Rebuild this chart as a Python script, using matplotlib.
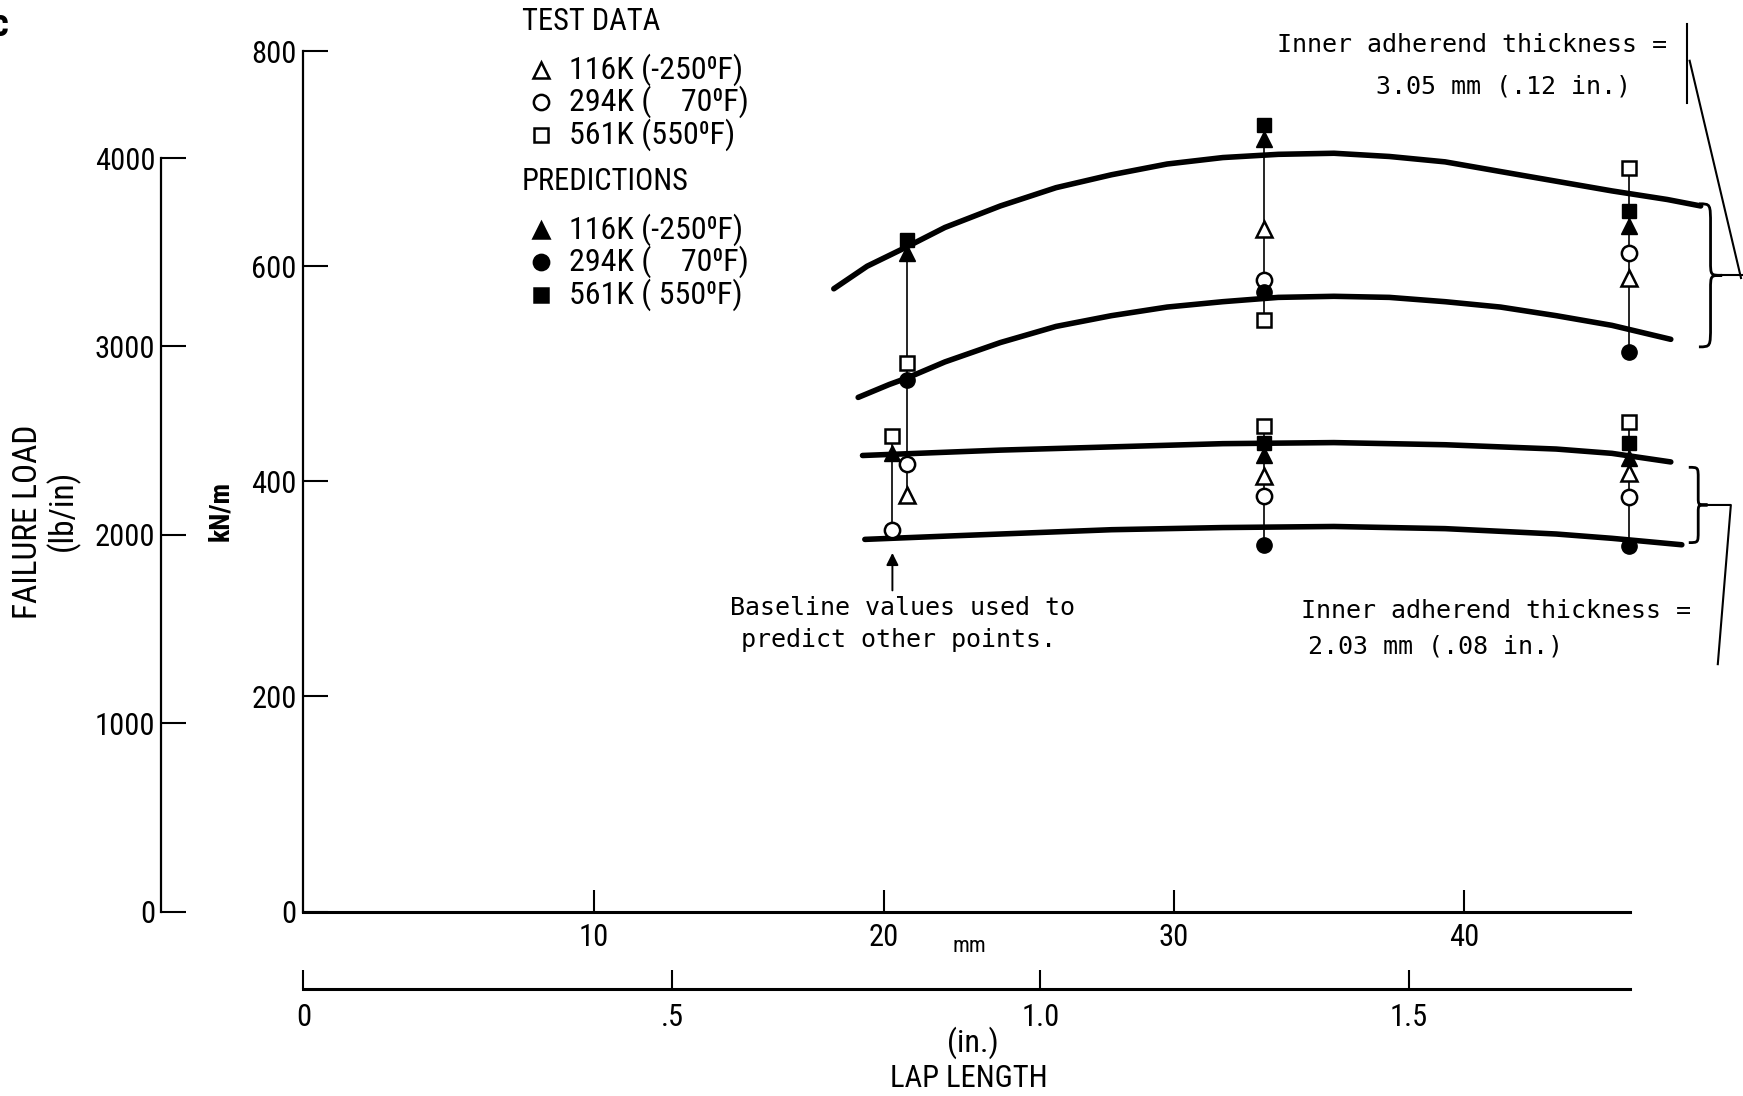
import matplotlib
matplotlib.use('Agg')
import matplotlib.pyplot as plt
import numpy as np
from matplotlib.path import Path
from matplotlib.patches import PathPatch

plt.rcParams['font.family'] = ['Roboto Condensed', 'Liberation Sans Narrow',
                               'Liberation Sans', 'DejaVu Sans']
plt.rcParams['font.stretch'] = 'condensed'
MONO = ['DejaVu Sans Mono']

# prediction curves, lap length (mm) vs failure load (kN/m)
c1_x = [18.28, 19.43, 20.80, 22.11, 24.02, 25.94, 27.85, 29.77, 31.69,
        33.60, 35.52, 37.43, 39.35, 41.26, 43.18, 45.10, 47.01, 48.16]
c1_y = [579, 600, 618, 636, 656, 673, 685, 695, 701,
        704, 705, 702, 697, 688, 679, 670, 662, 656]
c2_x = [19.12, 20.19, 20.80, 22.11, 24.02, 25.94, 27.85, 29.77, 31.69,
        33.60, 35.52, 37.43, 39.35, 41.26, 43.18, 45.10, 47.13]
c2_y = [478, 490, 496, 511, 529, 544, 554, 562, 567,
        571, 572, 571, 567, 562, 554, 545, 532]
c3_x = [19.27, 22.11, 24.02, 27.85, 31.69, 35.52, 39.35, 43.18, 45.10, 47.13]
c3_y = [424, 427, 429, 432, 435, 436, 434, 430, 426, 418]
c4_x = [19.35, 22.11, 24.02, 27.85, 31.69, 35.52, 39.35, 43.18, 45.10, 47.51]
c4_y = [346, 349, 351, 355, 357, 358, 356, 351, 347, 341]

# test data (open symbols)
t116_x = [20.8, 33.1, 45.7, 33.1, 45.7]
t116_y = [387, 635, 589, 405, 408]
t294_x = [20.8, 20.3, 33.1, 33.1, 45.7, 45.7]
t294_y = [416, 355, 587, 386, 612, 385]
t561_x = [20.8, 20.3, 33.1, 33.1, 45.7, 45.7]
t561_y = [510, 442, 550, 451, 691, 455]

# predictions (filled symbols)
p116_x = [20.8, 20.3, 33.1, 33.1, 45.7, 45.7]
p116_y = [612, 426, 718, 424, 637, 422]
p294_x = [20.8, 33.1, 33.1, 45.7, 45.7]
p294_y = [494, 576, 341, 520, 340]
p561_x = [20.8, 33.1, 33.1, 45.7, 45.7]
p561_y = [624, 731, 436, 651, 436]

# vertical connectors between points of one specimen group
conn_x = [20.8, 20.3, 33.1, 33.1, 45.7, 45.7]
conn_lo = [387, 355, 550, 341, 520, 340]
conn_hi = [624, 442, 731, 451, 691, 455]

kn_ticks = [0, 200, 400, 600, 800]
lb_ticks = [0, 1000, 2000, 3000, 4000]
mm_ticks = [10, 20, 30, 40]
in_ticks = [0, 0.5, 1.0, 1.5]
in_labels = ['0', '.5', '1.0', '1.5']

LB_PER_KN = 1 / 0.175127

fig = plt.figure(figsize=(17.43, 10.96), dpi=100)
L, B, W, H = 0.1741, 0.1683, 0.8156, 0.7851
ax = fig.add_axes([L, B, W, H])
ax.set_xlim(0, 49)
ax.set_ylim(0, 800)
ax.patch.set_alpha(0)
for s in ['top', 'right']:
    ax.spines[s].set_visible(False)
ax.spines['bottom'].set_bounds(0, 45.72)
ax.spines['bottom'].set_linewidth(2.2)
ax.spines['left'].set_linewidth(1.6)
ax.set_xticks(mm_ticks)
ax.set_yticks(kn_ticks)
ax.tick_params(axis='y', direction='in', length=18, width=1.5, pad=5, labelsize=22)
ax.tick_params(axis='x', direction='in', length=16, width=1.5, pad=8, labelsize=22)
ax.set_ylabel('kN/m', fontsize=20, fontweight='bold')
ax.yaxis.set_label_coords(-0.049, 0.466)

# connectors, curves, markers
ax.vlines(conn_x, conn_lo, conn_hi, color='k', lw=1.2, zorder=1)
for cx, cy in [(c1_x, c1_y), (c2_x, c2_y), (c3_x, c3_y), (c4_x, c4_y)]:
    ax.plot(cx, cy, color='k', lw=4, solid_capstyle='round',
            solid_joinstyle='round', zorder=2)

op = dict(ls='none', mfc='white', mec='k', mew=1.8, zorder=3, clip_on=False)
fp = dict(ls='none', mfc='k', mec='k', zorder=4, clip_on=False)
ax.plot(t116_x, t116_y, marker='^', ms=11, **op)
ax.plot(t294_x, t294_y, marker='o', ms=11, **op)
ax.plot(t561_x, t561_y, marker='s', ms=10, **op)
ax.plot(p116_x, p116_y, marker='^', ms=11, **fp)
ax.plot(p294_x, p294_y, marker='o', ms=11, **fp)
ax.plot(p561_x, p561_y, marker='s', ms=10, **fp)

# lb/in scale on the far left
ax_lb = fig.add_axes([161 / 1743, B, 1e-4, H])
ax_lb.set_ylim(0, 800 * LB_PER_KN)
ax_lb.patch.set_alpha(0)
for s in ['top', 'right', 'bottom']:
    ax_lb.spines[s].set_visible(False)
ax_lb.spines['left'].set_bounds(0, 4000)
ax_lb.spines['left'].set_linewidth(1.6)
ax_lb.set_xticks([])
ax_lb.set_yticks(lb_ticks)
ax_lb.tick_params(axis='y', direction='in', length=18, width=1.5, pad=4, labelsize=22)

# inch scale below
ax_in = fig.add_axes([L, 0.0976, W, 1e-4])
ax_in.set_xlim(0, 49 / 25.4)
ax_in.patch.set_alpha(0)
for s in ['top', 'right', 'left']:
    ax_in.spines[s].set_visible(False)
ax_in.spines['bottom'].set_bounds(0, 1.8)
ax_in.spines['bottom'].set_linewidth(2.2)
ax_in.set_yticks([])
ax_in.set_xticks(in_ticks)
ax_in.set_xticklabels(in_labels)
ax_in.tick_params(axis='x', direction='in', length=14, width=1.5, pad=10, labelsize=22)

# axis titles
fig.text(0.016, 0.524, 'FAILURE LOAD', rotation=90, ha='center', va='center', fontsize=24)
fig.text(0.036, 0.534, '(lb/in)', rotation=90, ha='center', va='center', fontsize=24)
fig.text(0.556, 0.136, 'mm', ha='center', va='center', fontsize=16)
fig.text(0.558, 0.049, '(in.)', ha='center', va='center', fontsize=23)
fig.text(0.556, 0.0164, 'LAP LENGTH', ha='center', va='center', fontsize=22)
fig.text(0.0, 0.977, 'c', ha='center', va='center', fontsize=28, fontweight='bold')

# legend blocks
def fx(px):
    return px / 1743

def fy(py):
    return 1 - py / 1096

fig.text(fx(522), fy(22), 'TEST DATA', ha='left', va='center', fontsize=22)
fig.text(fx(522), fy(181), 'PREDICTIONS', ha='left', va='center', fontsize=22)
leg_rows = [
    ('^', 'white', '116K (-250\u2070F)', 70),
    ('o', 'white', '294K (    70\u2070F)', 102),
    ('s', 'white', '561K (550\u2070F)', 134.5),
    ('^', 'k', '116K (-250\u2070F)', 230),
    ('o', 'k', '294K (    70\u2070F)', 262),
    ('s', 'k', '561K ( 550\u2070F)', 294.5),
]
for mk, fc, lab, py in leg_rows:
    fig.add_artist(plt.Line2D([fx(541)], [fy(py)], marker=mk, ms=11 if mk != 's' else 10,
                              mfc=fc, mec='k', mew=1.8, ls='none',
                              transform=fig.transFigure))
    fig.text(fx(569), fy(py), lab, ha='left', va='center', fontsize=23)

# annotations
ax.text(47.0, 806, 'Inner adherend thickness =', ha='right', va='center',
        fontsize=18, family=MONO)
ax.text(45.75, 767, '3.05 mm (.12 in.)', ha='right', va='center', fontsize=18, family=MONO)
ax.text(20.65, 282, 'Baseline values used to', ha='center', va='center', fontsize=18, family=MONO)
ax.text(20.5, 252, 'predict other points.', ha='center', va='center', fontsize=18, family=MONO)
ax.text(34.37, 279, 'Inner adherend thickness =', ha='left', va='center', fontsize=18, family=MONO)
ax.text(34.64, 246, '2.03 mm (.08 in.)', ha='left', va='center', fontsize=18, family=MONO)

ax.annotate('', xy=(20.3, 336), xytext=(20.3, 296),
            arrowprops=dict(arrowstyle='-|>', lw=1.4, color='k', mutation_scale=18))


def brace(x, y0, y1, w):
    ym = (y0 + y1) / 2
    h = y1 - y0
    xm = x + w / 2
    verts = [(x, y1), (xm, y1), (xm, y1), (xm, y1 - 0.15 * h),
             (xm, ym + 0.1 * h),
             (xm, ym), (xm, ym), (x + w, ym),
             (xm, ym), (xm, ym), (xm, ym - 0.1 * h),
             (xm, y0 + 0.15 * h),
             (xm, y0), (xm, y0), (x, y0)]
    codes = [Path.MOVETO, Path.CURVE4, Path.CURVE4, Path.CURVE4,
             Path.LINETO,
             Path.CURVE4, Path.CURVE4, Path.CURVE4,
             Path.CURVE4, Path.CURVE4, Path.CURVE4,
             Path.LINETO,
             Path.CURVE4, Path.CURVE4, Path.CURVE4]
    ax.add_patch(PathPatch(Path(verts, codes), fill=False, lw=2.0, clip_on=False))


brace(48.1, 525, 658, 0.8)
brace(47.75, 343, 413, 0.65)

lk = dict(color='k', lw=1.5, clip_on=False)
ax.plot([47.7, 47.7], [752, 825], **lk)
ax.plot([47.78, 49.55], [791, 589], **lk)
ax.plot([48.9, 49.6], [591.5, 591.5], **lk)
ax.plot([48.4, 49.2, 48.75], [378, 378, 230], **lk)

fig.savefig('out.png', dpi=100)
